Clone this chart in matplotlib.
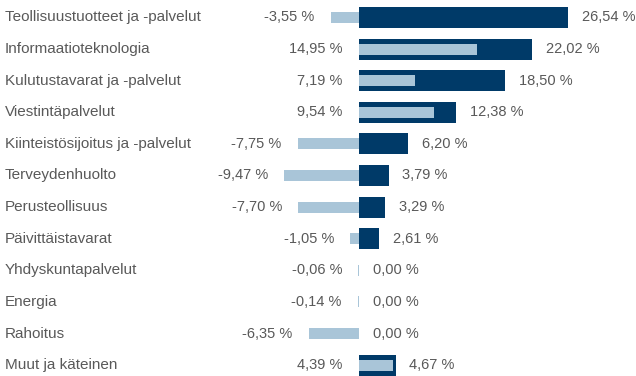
import matplotlib
matplotlib.use("Agg")
import matplotlib.pyplot as plt
from matplotlib.transforms import blended_transform_factory

categories = [
    "Teollisuustuotteet ja -palvelut",
    "Informaatioteknologia",
    "Kulutustavarat ja -palvelut",
    "Viestintäpalvelut",
    "Kiinteistösijoitus ja -palvelut",
    "Terveydenhuolto",
    "Perusteollisuus",
    "Päivittäistavarat",
    "Yhdyskuntapalvelut",
    "Energia",
    "Rahoitus",
    "Muut ja käteinen",
]
portfolio = [26.54, 22.02, 18.50, 12.38, 6.20, 3.79, 3.29, 2.61, 0.00, 0.00, 0.00, 4.67]
benchmark = [-3.55, 14.95, 7.19, 9.54, -7.75, -9.47, -7.70, -1.05, -0.06, -0.14, -6.35, 4.39]

DARK = "#003a68"
LIGHT = "#a9c5d8"
TEXT = "#595959"
FS_CAT = 11
FS_VAL = 10.5

plt.rcParams["font.family"] = ["Liberation Sans", "DejaVu Sans"]

fig = plt.figure(figsize=(6.36, 3.76), dpi=100)
ax = fig.add_axes([0, 0, 1, 1])

y = list(range(len(categories)))
ax.barh(y, portfolio, height=0.66, color=DARK, zorder=2)
ax.barh(y, benchmark, height=0.35, color=LIGHT, zorder=3)

fmt = lambda v: f"{v:.2f} %".replace(".", ",")

for i, (p, b) in enumerate(zip(portfolio, benchmark)):
    ax.annotate(fmt(p), (max(p, 0), i), xytext=(10, 0), textcoords="offset points",
                ha="left", va="center", fontsize=FS_VAL, color=TEXT)
    ax.annotate(fmt(b), (min(b, 0), i), xytext=(-11.5, 0), textcoords="offset points",
                ha="right", va="center", fontsize=FS_VAL, color=TEXT)

trans = blended_transform_factory(ax.transAxes, ax.transData)
for i, c in enumerate(categories):
    ax.text(5 / 636, i, c, transform=trans, ha="left", va="center",
            fontsize=FS_CAT, color=TEXT)

scale = 7.89  # pixels per percentage point
zero_px = 358.7
ax.set_xlim(-zero_px / scale, (636 - zero_px) / scale)
row = 31.6
top = 17.5
ax.set_ylim((376 - top) / row, -top / row)
ax.axis("off")

fig.savefig("out.png", dpi=100)
